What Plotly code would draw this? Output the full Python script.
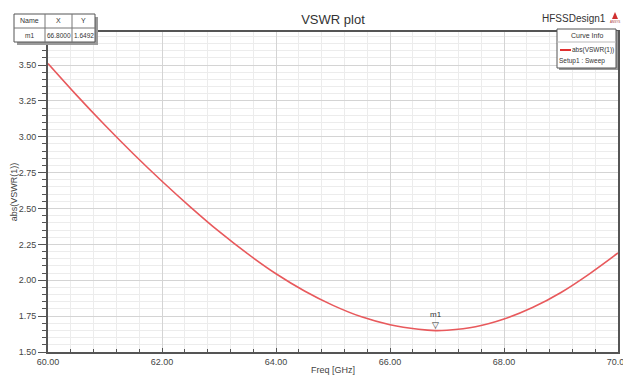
import plotly.graph_objects as go

freq_ghz = [60.0, 60.5, 61.0, 61.5, 62.0, 62.5, 63.0, 63.5, 64.0, 64.5, 65.0, 65.5,
            66.0, 66.5, 66.8, 67.0, 67.5, 68.0, 68.5, 69.0, 69.5, 70.0]
vswr = [3.51, 3.29, 3.08, 2.88, 2.69, 2.51, 2.34, 2.185, 2.045, 1.925, 1.825, 1.745,
        1.69, 1.658, 1.6492, 1.652, 1.676, 1.73, 1.81, 1.915, 2.045, 2.19]
marker_name = "m1"
marker_x = 66.8
marker_y = 1.6492
x_ticks = [60, 62, 64, 66, 68, 70]
y_ticks = [1.50, 1.75, 2.00, 2.25, 2.50, 2.75, 3.00, 3.25, 3.50]

W, H = 623, 375
L, R, T, B = 48, 5, 32, 23
PW, PH = W - L - R, H - T - B

def px(x):
    return (x - L) / PW

def py(y):
    return (H - B - y) / PH

FONT = "Liberation Sans Narrow, Arial Narrow, Liberation Sans, Arial"

fig = go.Figure()
fig.add_trace(go.Scatter(x=freq_ghz, y=vswr, mode="lines",
                         line=dict(color="#e8595c", width=1.6, shape="spline", smoothing=1.0),
                         showlegend=False, hoverinfo="skip"))

fig.update_layout(
    width=W, height=H, margin=dict(l=L, r=R, t=T, b=B, autoexpand=False),
    paper_bgcolor="white", plot_bgcolor="white",
    font=dict(family=FONT, size=9, color="#333333"),
    title=dict(text="VSWR plot", x=(L + PW / 2) / W, xanchor="center", y=1 - 19 / H, yanchor="middle",
               font=dict(family="Liberation Sans, Arial", size=13, color="#333333")),
    showlegend=False,
)
fig.update_xaxes(range=[60, 70], tickvals=x_ticks, tickformat=".2f", ticks="inside", ticklen=4, tickcolor="#555555",
                 ticklabeloverflow="allow", automargin=False,
                 showgrid=True, gridcolor="#d4d4d4", gridwidth=1,
                 minor=dict(dtick=0.4, ticks="inside", ticklen=3, tickcolor="#555555", showgrid=True, gridcolor="#ececec"),
                 showline=True, linecolor="#555555", linewidth=2, mirror=True,
                 title=dict(text="Freq [GHz]", font=dict(size=9, color="#444444"), standoff=2),
                 tickfont=dict(size=9, color="#444444"))
fig.update_yaxes(range=[1.5, 3.73], tickvals=y_ticks, tickformat=".2f", ticks="outside", ticklen=8, tickcolor="#555555",
                 automargin=False,
                 showgrid=True, gridcolor="#d4d4d4", gridwidth=1,
                 minor=dict(dtick=0.05, ticks="outside", ticklen=4, tickcolor="#555555", showgrid=True, gridcolor="#ececec"),
                 showline=True, linecolor="#555555", linewidth=2, mirror=True,
                 title=dict(text="abs(VSWR(1))", font=dict(size=9, color="#444444"), standoff=0),
                 tickfont=dict(size=9, color="#444444"))

# marker triangle and label
fig.add_annotation(x=marker_x, y=marker_y, xref="x", yref="y", text="▽", showarrow=False,
                   xanchor="center", yanchor="bottom", yshift=-1, font=dict(size=9, color="#333333"))
fig.add_annotation(x=marker_x, y=marker_y, xref="x", yref="y", text=marker_name, showarrow=False,
                   xanchor="center", yanchor="bottom", yshift=10, font=dict(size=8, color="#333333"))

def label(xp, yp, text, size=8, xanchor="center", color="#333333", family=None):
    f = dict(size=size, color=color)
    if family:
        f["family"] = family
    fig.add_annotation(x=px(xp), y=py(yp), xref="paper", yref="paper", text=text, showarrow=False,
                       xanchor=xanchor, yanchor="middle", font=f, borderpad=0)

shapes = []
# marker table (top-left) with shadow
tx0, tx1, ty0, ty1 = 14, 95, 14, 42
shapes.append(dict(type="rect", xref="paper", yref="paper", x0=px(tx0 + 3), x1=px(tx1 + 3), y0=py(ty1 + 3), y1=py(ty0 + 3),
                   fillcolor="#9a9a9a", line=dict(width=0), layer="above"))
shapes.append(dict(type="rect", xref="paper", yref="paper", x0=px(tx0), x1=px(tx1), y0=py(ty1), y1=py(ty0),
                   fillcolor="white", line=dict(color="#555555", width=1), layer="above"))
shapes.append(dict(type="line", xref="paper", yref="paper", x0=px(tx0), x1=px(tx1), y0=py(28), y1=py(28),
                   line=dict(color="#777777", width=1), layer="above"))
for cx in (45, 72):
    shapes.append(dict(type="line", xref="paper", yref="paper", x0=px(cx), x1=px(cx), y0=py(ty0), y1=py(ty1),
                       line=dict(color="#777777", width=1), layer="above"))
cols = [(tx0 + 45) / 2, (45 + 72) / 2, (72 + tx1) / 2]
for cxm, h, v in zip(cols, ["Name", "X", "Y"], [marker_name, f"{marker_x:.4f}", f"{marker_y:.4f}"]):
    label(cxm, 21, h, size=7)
    label(cxm, 35, v, size=6.5)

# Curve info box (top-right)
bx0, bx1, by0, by1 = 557, 616, 29, 68
shapes.append(dict(type="rect", xref="paper", yref="paper", x0=px(bx0 + 2), x1=px(bx1 + 2), y0=py(by1 + 2), y1=py(by0 + 2),
                   fillcolor="#9a9a9a", line=dict(width=0), layer="above"))
shapes.append(dict(type="rect", xref="paper", yref="paper", x0=px(bx0), x1=px(bx1), y0=py(by1), y1=py(by0),
                   fillcolor="white", line=dict(color="#555555", width=1), layer="above"))
shapes.append(dict(type="line", xref="paper", yref="paper", x0=px(bx0), x1=px(bx1), y0=py(42), y1=py(42),
                   line=dict(color="#bbbbbb", width=1), layer="above"))
shapes.append(dict(type="line", xref="paper", yref="paper", x0=px(560), x1=px(571), y0=py(50), y1=py(50),
                   line=dict(color="#e03030", width=2), layer="above"))
label((bx0 + bx1) / 2, 35.5, "Curve Info", size=7)
label(615, 50, "abs(VSWR(1))", size=6.5, xanchor="right")
label(558, 60.5, "Setup1 : Sweep", size=6.5, xanchor="left")

# HFSSDesign1 label and logo
label(607, 18, "HFSSDesign1", size=10, xanchor="right")
shapes.append(dict(type="path", xref="paper", yref="paper",
                   path=f"M {px(612)} {py(19)} L {px(618)} {py(19)} L {px(615)} {py(12)} Z",
                   fillcolor="#d03030", line=dict(width=0), layer="above"))
label(615, 22, "ANSYS", size=3, color="#aa3333")

fig.update_layout(shapes=shapes)
fig.write_html("out.html")
